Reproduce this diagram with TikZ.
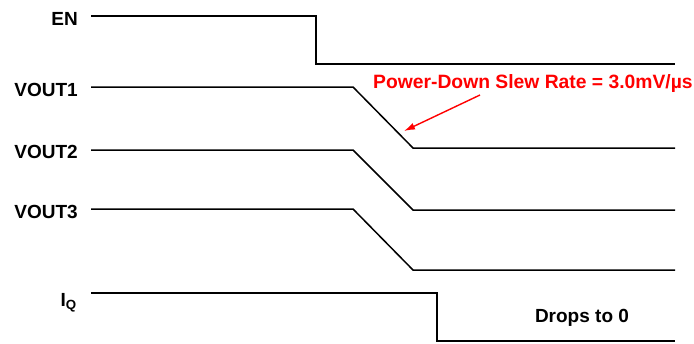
\documentclass[tikz,border=0pt]{standalone}
\usepackage{fontspec}
\setmainfont{Liberation Sans}
\usepackage{tikz}
\usetikzlibrary{arrows.meta, positioning}
\tikzstyle{wave} = [line width=1.5pt, line join=miter]
\tikzstyle{lbl} = [anchor=base east, inner sep=0pt, font=\fontsize{19}{21}\selectfont\bfseries]
\tikzstyle{note} = [anchor=base west, inner sep=0pt, text=red, font=\fontsize{19.3}{21}\selectfont\bfseries]
\tikzstyle{arrow} = [red, line width=1.4pt, -{Latex[length=11pt, width=7pt]}]

\begin{document}
\begin{tikzpicture}[x=1pt, y=-1pt]
            \useasboundingbox (0,0) rectangle (694,343);
            % signal names
            \node[lbl] (en) at (78,25) {EN};
            \node[lbl] (vout1) at (78,96.5) {VOUT1};
            \node[lbl] (vout2) at (78,158) {VOUT2};
            \node[lbl] (vout3) at (78,218) {VOUT3};
            \node[lbl] (iq) at (77,306) {I\textsubscript{Q}};
            % waveforms
            \draw[wave] (91,16) -- (316,16) -- (316,64) -- (675,64);
            \draw[wave] (91,87) -- (353,87) -- (413,148) -- (675,148);
            \draw[wave] (91,150) -- (353,150) -- (413,210) -- (675,210);
            \draw[wave] (91,209) -- (353,209) -- (413,270) -- (675,270);
            \draw[wave] (91,293) -- (437,293) -- (437,341) -- (675,341);
            \node[lbl, anchor=base] (drops) at (582,322) {Drops to 0};
            % slew rate note
            \node[note] (slew) at (373,88) {Power-Down Slew Rate = 3.0mV/µs};
            \coordinate (tail) at (480,95);
            \coordinate (slope) at (404,131);
            \draw[arrow] (tail) -- (slope);
        \end{tikzpicture}
\end{document}
